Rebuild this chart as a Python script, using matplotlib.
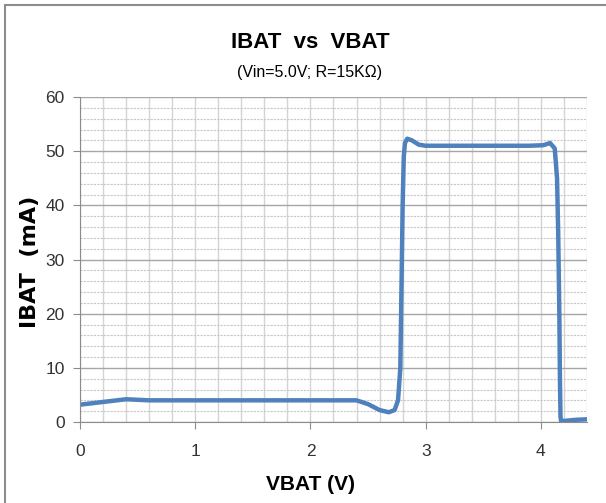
import matplotlib.pyplot as plt
from matplotlib.patches import Rectangle
from matplotlib.ticker import MultipleLocator

# curve
vbat = [0.0, 0.2, 0.4, 0.6, 1.0, 1.5, 2.0, 2.4, 2.5, 2.6, 2.68, 2.73, 2.76,
        2.78, 2.79, 2.8, 2.81, 2.82, 2.84, 2.88, 2.94, 3.0, 3.5, 3.9, 4.02,
        4.08, 4.12, 4.14, 4.15, 4.16, 4.165, 4.17, 4.175, 4.2, 4.3, 4.4]
ibat = [3.2, 3.7, 4.2, 4.0, 4.0, 4.0, 4.0, 4.0, 3.3, 2.2, 1.8, 2.2, 4.0,
        10.0, 25.0, 40.0, 49.0, 51.5, 52.3, 52.0, 51.2, 51.0, 51.0, 51.0, 51.1,
        51.5, 50.5, 45.0, 35.0, 20.0, 8.0, 1.0, 0.2, 0.2, 0.4, 0.5]

xticks = [0, 1, 2, 3, 4]
yticks = [0, 10, 20, 30, 40, 50, 60]

narrow = ["Liberation Sans Narrow", "Liberation Sans", "DejaVu Sans"]

fig = plt.figure(figsize=(6.06, 5.03), dpi=100)
ax = fig.add_axes([80 / 606, 1 - 422 / 503, 507 / 606, 325 / 503])

# outer chart frame (runs off the right and bottom edge)
fig.patches.append(Rectangle((5 / 606, -0.05), 1.0, 1 - 5 / 503 + 0.05,
                             transform=fig.transFigure, fill=False,
                             edgecolor="#8c8c8c", linewidth=1.5))

ax.set_xlim(0, 4.4)
ax.set_ylim(0, 60)
ax.set_xticks(xticks)
ax.set_yticks(yticks)
ax.xaxis.set_minor_locator(MultipleLocator(0.2))
ax.yaxis.set_minor_locator(MultipleLocator(2))

ax.grid(which="major", axis="y", color="#a6a6a6", linewidth=1.0)
ax.grid(which="minor", axis="y", color="#c8c8c8", linewidth=0.8, linestyle=(0, (2, 1)))
ax.grid(which="both", axis="x", color="#d4d4d4", linewidth=1.0)
ax.set_axisbelow(True)

for s in ["top", "right"]:
    ax.spines[s].set_visible(False)
for s in ["left", "bottom"]:
    ax.spines[s].set_color("#8c8c8c")

ax.tick_params(which="major", length=5, color="#8c8c8c", labelsize=12.5,
               labelcolor="#333333", pad=6)
ax.tick_params(which="minor", length=0)
ax.tick_params(axis="x", pad=11)
for lab in ax.get_xticklabels() + ax.get_yticklabels():
    lab.set_family(narrow)

ax.plot(vbat, ibat, color="#4f81bd", linewidth=3.2, solid_joinstyle="round",
        solid_capstyle="round")

fig.text(310 / 606, 1 - 42 / 503, "IBAT  vs  VBAT", ha="center", va="center",
         fontsize=16, fontweight="bold", family=narrow)
fig.text(310 / 606, 1 - 73 / 503, "(Vin=5.0V; R=15K\u03a9)", ha="center", va="center",
         fontsize=11.5, family=narrow)
fig.text(310 / 606, 1 - 485 / 503, "VBAT (V)", ha="center", va="center",
         fontsize=15, fontweight="bold", family=narrow)
fig.text(30 / 606, 1 - 262 / 503, "IBAT  (mA)", ha="center", va="center",
         rotation=90, fontsize=16, fontweight="bold", family="DejaVu Sans")

fig.savefig("out.png", dpi=100)
